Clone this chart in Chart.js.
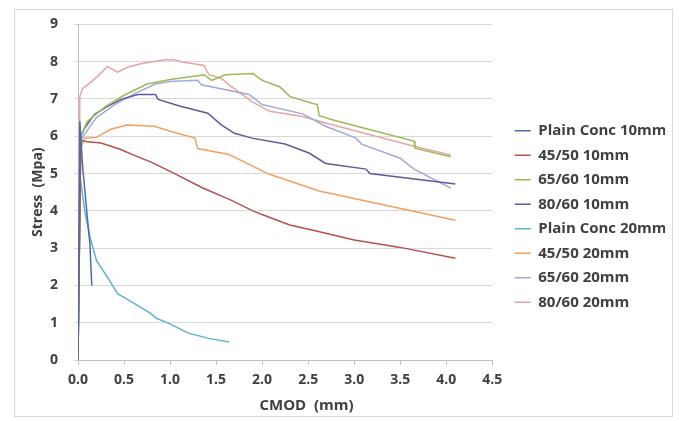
<!DOCTYPE html>
<html lang="en">
<head>
    <meta charset="UTF-8">
    <title>Stress vs CMOD</title>
    <script src="https://cdn.jsdelivr.net/npm/chart.js"></script>
    <style>
        html, body { margin: 0; padding: 0; background: #fff; }
        #wrap { position: relative; width: 679px; height: 421px; }
        #frame { position: absolute; left: 14px; top: 9px; width: 657px; height: 406px; border: 1px solid #D9D9D9; }
        #cmodChart { position: absolute; left: 0; top: 0; }
    </style>
</head>
<body>
    <div id="wrap">
        <div id="frame"></div>
        <canvas id="cmodChart" width="679" height="421"></canvas>
    </div>

    <script>
        // series names
        const seriesNames = ['Plain Conc 10mm', '45/50 10mm', '65/60 10mm', '80/60 10mm',
                             'Plain Conc 20mm', '45/50 20mm', '65/60 20mm', '80/60 20mm'];

        // CMOD (mm) and Stress (MPa)
        const plain10X = [0, 0.02, 0.05, 0.08, 0.11, 0.13, 0.14, 0.15];
        const plain10Y = [0, 6.4, 5.2, 4.4, 3.6, 3.1, 2.5, 2.0];

        const m4550_10X = [0, 0.03, 0.1, 0.25, 0.45, 0.6, 0.8, 1.05, 1.35, 1.65, 1.9, 2.0, 2.3, 2.6, 3.0, 3.5, 4.1];
        const m4550_10Y = [0, 5.9, 5.85, 5.82, 5.66, 5.5, 5.3, 5.0, 4.62, 4.3, 4.0, 3.9, 3.62, 3.45, 3.22, 3.02, 2.73];

        const m6560_10X = [0, 0.03, 0.1, 0.3, 0.5, 0.75, 1.0, 1.3, 1.37, 1.45, 1.6, 1.9, 2.0, 2.19, 2.3, 2.55, 2.6, 2.62, 2.75, 3.32, 3.65, 3.66, 4.05];
        const m6560_10Y = [0, 6.0, 6.4, 6.8, 7.1, 7.4, 7.52, 7.62, 7.65, 7.5, 7.65, 7.68, 7.5, 7.33, 7.07, 6.88, 6.85, 6.55, 6.45, 6.08, 5.87, 5.68, 5.45];

        const m8060_10X = [0, 0.03, 0.07, 0.18, 0.32, 0.47, 0.65, 0.84, 0.87, 1.12, 1.2, 1.41, 1.56, 1.7, 1.89, 2.25, 2.51, 2.69, 3.13, 3.17, 4.1];
        const m8060_10Y = [0, 6.0, 6.21, 6.59, 6.8, 6.99, 7.12, 7.12, 6.99, 6.8, 6.75, 6.62, 6.3, 6.08, 5.95, 5.79, 5.55, 5.27, 5.12, 5.0, 4.72];

        const plain20X = [0, 0.02, 0.05, 0.08, 0.13, 0.2, 0.32, 0.43, 0.61, 0.79, 0.85, 0.98, 1.2, 1.42, 1.64];
        const plain20Y = [0, 5.0, 4.4, 3.9, 3.3, 2.67, 2.22, 1.78, 1.52, 1.25, 1.12, 0.99, 0.72, 0.58, 0.48];

        const m4550_20X = [0, 0.02, 0.07, 0.2, 0.35, 0.53, 0.83, 1.01, 1.27, 1.3, 1.64, 2.08, 2.62, 4.1];
        const m4550_20Y = [0, 5.6, 5.95, 5.97, 6.18, 6.3, 6.27, 6.13, 5.95, 5.67, 5.51, 4.98, 4.53, 3.75];

        const m6560_20X = [0, 0.03, 0.07, 0.2, 0.4, 0.62, 0.84, 1.0, 1.3, 1.34, 1.86, 2.0, 2.44, 2.69, 3.02, 3.08, 3.5, 3.65, 4.05];
        const m6560_20Y = [0, 5.9, 6.05, 6.5, 6.85, 7.15, 7.4, 7.47, 7.5, 7.38, 7.12, 6.85, 6.6, 6.27, 5.95, 5.79, 5.41, 5.12, 4.61];

        const m8060_20X = [0, 0.02, 0.05, 0.12, 0.21, 0.32, 0.43, 0.54, 0.69, 0.95, 1.04, 1.12, 1.37, 1.42, 1.56, 1.64, 1.89, 2.08, 2.44, 2.74, 3.65, 4.05];
        const m8060_20Y = [0, 7.07, 7.28, 7.41, 7.6, 7.87, 7.72, 7.85, 7.95, 8.05, 8.05, 8.0, 7.9, 7.65, 7.55, 7.38, 6.93, 6.67, 6.53, 6.32, 5.73, 5.5];

        const seriesX = [plain10X, m4550_10X, m6560_10X, m8060_10X, plain20X, m4550_20X, m6560_20X, m8060_20X];
        const seriesY = [plain10Y, m4550_10Y, m6560_10Y, m8060_10Y, plain20Y, m4550_20Y, m6560_20Y, m8060_20Y];
        const seriesColors = ['#4A6FA5', '#B5504D', '#9BBB59', '#6656A0', '#5FB3D3', '#F3A060', '#A3A8DA', '#E6A6A2'];

        const textColor = '#404040';
        const tickFont = { family: 'Open Sans', size: 14, weight: 'bold' };
        const legendGap = 13;

        const datasets = seriesNames.map((name, i) => ({
            label: name,
            data: seriesX[i].map((x, j) => ({ x: x, y: seriesY[i][j] })),
            borderColor: seriesColors[i],
            backgroundColor: seriesColors[i],
            borderWidth: 1.5,
            pointRadius: 0,
            tension: 0,
            fill: false
        }));

        // leave some room between plot and legend, like Excel does
        const legendSpacer = {
            id: 'legendSpacer',
            beforeLayout(chart) {
                const lg = chart.legend;
                if (lg && !lg._gapWrapped) {
                    const fit = lg.fit;
                    lg.fit = function () { fit.call(this); this.width += legendGap; };
                    lg._gapWrapped = true;
                }
            },
            afterLayout(chart) {
                chart.legend.left += legendGap;
            }
        };

        const ctx = document.getElementById('cmodChart').getContext('2d');
        new Chart(ctx, {
            type: 'line',
            data: { datasets: datasets },
            plugins: [legendSpacer],
            options: {
                responsive: false,
                animation: false,
                layout: { padding: { left: 26, top: 14, right: 14, bottom: 2 } },
                plugins: {
                    legend: {
                        position: 'right',
                        labels: {
                            usePointStyle: true,
                            pointStyle: 'line',
                            pointStyleWidth: 16,
                            padding: 9.5,
                            color: textColor,
                            font: { family: 'Open Sans', size: 15, weight: 'bold' }
                        }
                    },
                    tooltip: { enabled: false }
                },
                scales: {
                    x: {
                        type: 'linear',
                        min: 0,
                        max: 4.5,
                        afterFit: s => { s.height = 59; },
                        ticks: {
                            stepSize: 0.5,
                            color: textColor,
                            font: tickFont,
                            padding: 7,
                            callback: v => v.toFixed(1)
                        },
                        grid: { drawOnChartArea: false, tickLength: 5, color: '#BFBFBF' },
                        border: { color: '#BFBFBF' },
                        title: {
                            display: true,
                            text: '           CMOD  (mm)',
                            color: textColor,
                            font: { family: 'Open Sans', size: 15, weight: 'bold' }
                        }
                    },
                    y: {
                        min: 0,
                        max: 9,
                        afterFit: s => { s.width = 52; },
                        ticks: {
                            stepSize: 1,
                            color: textColor,
                            font: tickFont,
                            padding: 16
                        },
                        grid: { color: '#D9D9D9', tickLength: 4 },
                        border: { color: '#BFBFBF' },
                        title: {
                            display: true,
                            text: 'Stress  (Mpa)',
                            color: textColor,
                            font: { family: 'Open Sans', size: 14, weight: 'bold' }
                        }
                    }
                }
            }
        });
    </script>
</body>
</html>
